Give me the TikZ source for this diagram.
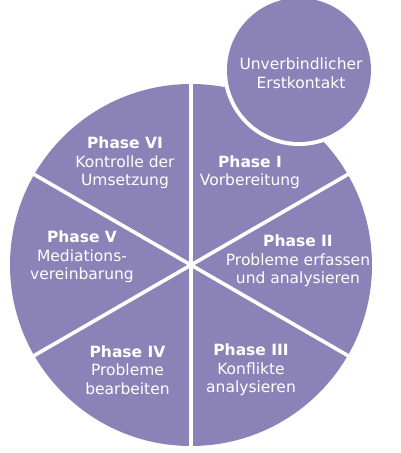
\documentclass[tikz,border=0pt]{standalone}
\usepackage{fontspec}
\setmainfont{DejaVu Sans}
\usetikzlibrary{calc}
\definecolor{pie}{RGB}{139,131,183}
\begin{document}
\begin{tikzpicture}[x=1pt,y=-1pt,
  lbl/.style={text=white,align=center,font=\fontsize{15.5}{18.5}\selectfont,inner sep=0pt},
  gap/.style={white,line width=3.6pt}]
\useasboundingbox (0,0) rectangle (400,453);
\coordinate (c) at (191,265);
\fill[pie] (c) circle[radius=181];
\foreach \a in {90,30,150}{
  \draw[gap] ($(c)+(\a:185)$) -- ($(c)+(\a+180:185)$);
}
\coordinate (s) at (299,70);
\fill[white] (s) circle[radius=76];
\fill[pie] (s) circle[radius=72];
\node[lbl] (k) at (301,73) {Unverbindlicher\\Erstkontakt};
\node[lbl] (p1) at (250,172) {\textbf{Phase I}\\Vorbereitung};
\node[lbl] (p2) at (298,261) {\textbf{Phase II}\\Probleme erfassen\\und analysieren};
\node[lbl] (p3) at (251,370) {\textbf{Phase III}\\Konflikte\\analysieren};
\node[lbl] (p4) at (127.5,370) {\textbf{Phase IV}\\Probleme\\bearbeiten};
\node[lbl] (p5) at (82,257) {\textbf{Phase V}\\Mediations-\\vereinbarung};
\node[lbl] (p6) at (125,163) {\textbf{Phase VI}\\Kontrolle der\\Umsetzung};
\end{tikzpicture}
\end{document}
